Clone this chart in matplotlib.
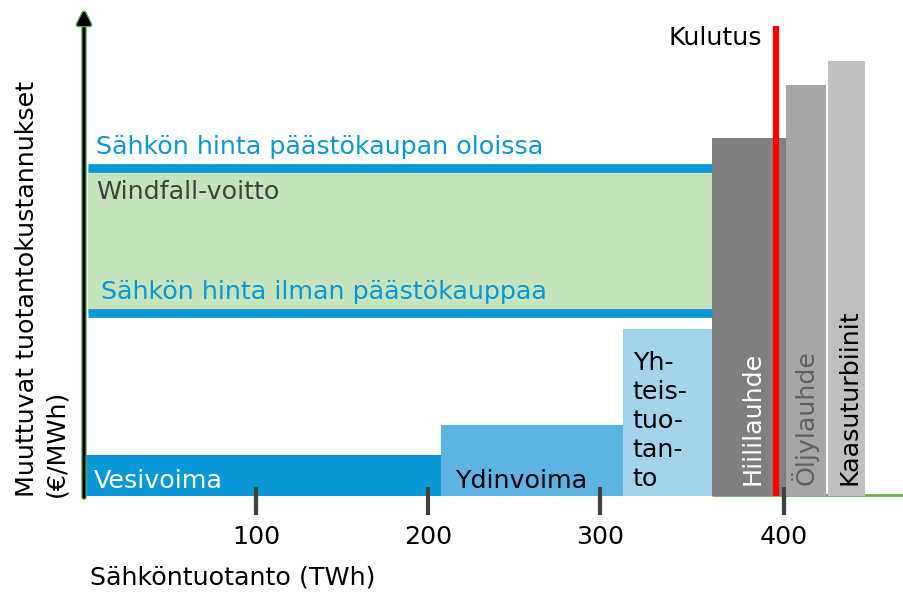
import matplotlib.pyplot as plt
import matplotlib.patheffects as pe

# merit order: (start TWh, end TWh, cost)
names = ['Vesivoima', 'Ydinvoima', 'Yhteistuotanto', 'Hiililauhde', 'Öljylauhde', 'Kaasuturbiinit']
starts = [0, 207.6, 313.4, 365, 408, 432.6]
ends = [207.6, 313.4, 365, 408, 431.4, 454]
costs = [10.25, 17.75, 41.75, 89.5, 102.75, 108.75]
colors = ['#0a98d8', '#5db4e2', '#a3d4ee', '#7f7f7f', '#a6a6a6', '#bfbfbf']

price_ets = 82.1
price_no_ets = 45.75
price_x0, price_x1 = 2.3, 365
consumption = 402.3

tick_pos = [100, 200, 300, 407]
tick_labels = ['100', '200', '300', '400']

XMAX, YMAX = 476.7, 121.5
FS = 18.3
blue = '#0a98d8'

fig = plt.figure(figsize=(9.04, 5.93), dpi=100)
ax = fig.add_axes([84 / 904, 97 / 593, 820 / 904, 486 / 593])
ax.set_xlim(0, XMAX)
ax.set_ylim(0, YMAX)
for s in ax.spines.values():
    s.set_visible(False)
ax.set_yticks([])

ax.hlines(0.2, starts[3], XMAX, color='#70ad47', lw=2, zorder=1, clip_on=False)

for x0, x1, c, col in zip(starts, ends, costs, colors):
    ax.bar(x0, c, width=x1 - x0, align='edge', color=col, zorder=2)

# windfall area and price lines
ax.fill_between([price_x0, price_x1], price_no_ets, price_ets, color='#c5e4bc', zorder=1.5)
ax.hlines([price_ets, price_no_ets], price_x0, price_x1, color=blue, lw=6.3, zorder=3)

# consumption
ax.vlines(consumption, 0, 117.5, color='#ff0000', lw=4.5, zorder=4, clip_on=False)

# x ticks
ax.set_xticks(tick_pos, tick_labels, fontsize=FS)
ax.tick_params(axis='x', length=0, pad=21)
ax.vlines(tick_pos, -4.8, 2.25, color='#404040', lw=3, zorder=5, clip_on=False)

# y axis arrow
ax.annotate('', xy=(0, YMAX), xytext=(0, -0.3), annotation_clip=False,
            arrowprops=dict(arrowstyle='-|>', color='black', lw=2.2, mutation_scale=20,
                            shrinkA=0, shrinkB=0,
                            path_effects=[pe.Stroke(linewidth=4, foreground='#5cb85c'), pe.Normal()]),
            zorder=6)

# labels
ax.text(7.0, 87.25, 'Sähkön hinta päästökaupan oloissa', color=blue, fontsize=FS, va='center')
ax.text(7.0, 76, 'Windfall-voitto', color='#404040', fontsize=FS, va='center')
ax.text(9.9, 51, 'Sähkön hinta ilman päästökauppaa', color=blue, fontsize=FS, va='center')
ax.text(5.8, 3.75, 'Vesivoima', color='white', fontsize=FS, va='center', zorder=6)
ax.text(215.7, 3.75, 'Ydinvoima', color='black', fontsize=FS, va='center', zorder=6)
ax.text(319, 36.3, 'Yh-\nteis-\ntuo-\ntan-\nto', color='black', fontsize=FS, va='top',
        linespacing=1.27, zorder=6)
ax.text(388.4, 2.75, 'Hiililauhde', color='white', fontsize=FS, rotation=90,
        ha='center', va='bottom', zorder=6)
ax.text(419, 2.75, 'Öljylauhde', color='#606060', fontsize=FS, rotation=90,
        ha='center', va='bottom', zorder=6)
ax.text(444.8, 2.75, 'Kaasuturbiinit', color='black', fontsize=FS, rotation=90,
        ha='center', va='bottom', zorder=6)
ax.text(394.2, 114.5, 'Kulutus', color='black', fontsize=FS, ha='right', va='center')

ax.text(3.5, -20.5, 'Sähköntuotanto (TWh)', fontsize=FS, va='center', clip_on=False)
fig.text(42 / 904, 96 / 593, 'Muuttuvat tuotantokustannukset\n(€/MWh)', fontsize=FS,
         rotation=90, ha='center', va='bottom', multialignment='left', linespacing=1.3)

fig.savefig('out.png', dpi=100)
